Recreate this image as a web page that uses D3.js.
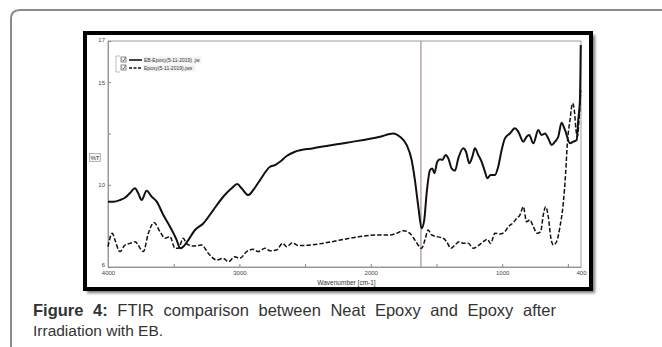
<!DOCTYPE html>
<html>
<head>
<meta charset="utf-8">
<script src="https://cdn.jsdelivr.net/npm/d3@7"></script>
<style>
  body { margin: 0; background: #fff; }
  svg { display: block; }
</style>
</head>
<body>
<div id="chart"></div>
<script>
// series (wavenumber cm-1, %T)
var wnEB = [4000,3960,3909,3871,3833,3795,3769,3744,3706,3667,3629,3579,3528,3477,3452,3427,3389,3338,3275,3199,3123,3059,3016,2983,2932,2894,2843,2767,2729,2691,2640,2577,2438,2184,1930,1829,1778,1727,1689,1664,1638,1613,1593,1575,1549,1532,1516,1494,1473,1456,1430,1410,1385,1359,1334,1296,1275,1250,1227,1207,1182,1156,1131,1113,1088,1055,1030,1004,979,941,903,877,839,814,794,763,725,700,674,649,624,598,573,548,522,484,459,433,421,408,402];
var tEB = [9.18,9.18,9.26,9.37,9.6,9.83,9.58,9.26,9.71,9.42,9.18,8.53,7.96,7.31,6.91,6.99,7.31,7.8,8.12,8.77,9.42,9.83,10.04,9.83,9.5,9.75,10.23,10.88,10.96,11.12,11.4,11.61,11.78,12.05,12.34,12.5,12.34,11.94,11.21,10.23,8.93,7.88,8.29,9.58,10.72,10.8,10.56,11.12,11.24,11.21,11.45,11.29,10.8,10.69,11.29,11.78,11.61,11.05,11.37,11.78,11.45,11.12,10.64,10.32,10.48,10.48,10.88,11.69,12.26,12.5,12.75,12.58,12.1,12.34,12.42,12.02,12.67,12.42,12.5,12.26,11.94,12.1,12.34,13.02,12.67,12.02,12.1,12.18,13.15,14.13,16.8];

var wnNeat = [4000,3967,3947,3909,3871,3833,3795,3731,3693,3650,3604,3566,3528,3490,3465,3427,3401,3351,3287,3237,3173,3123,3084,3034,2996,2945,2894,2856,2805,2767,2716,2671,2640,2597,2552,1930,1854,1803,1753,1702,1664,1613,1588,1563,1537,1499,1448,1423,1390,1359,1329,1291,1258,1220,1182,1144,1113,1088,1055,1017,979,953,915,890,865,839,814,789,763,733,707,687,669,649,631,611,586,560,535,517,504,484,464,451,438,428,415,402];
var tNeat = [6.99,7.64,7.31,6.75,7.07,7.15,7.23,6.75,7.64,8.16,7.72,7.4,7.48,6.91,6.91,7.4,7.12,7.02,7.07,6.67,6.34,6.42,6.26,6.5,6.42,6.75,6.86,6.75,6.91,6.79,6.83,7.15,6.99,7.18,7.04,7.56,7.56,7.64,7.77,7.64,7.31,6.91,7.31,7.8,7.56,7.48,7.4,7.23,6.91,7.07,7.23,7.15,7.15,6.91,7.04,7.23,7.35,7.15,7.64,7.61,7.72,7.96,8.16,8.37,8.53,8.93,8.2,8.29,7.96,7.64,7.72,8.53,8.93,8.45,7.48,7.07,7.23,7.96,9.1,10.56,12.02,13.15,13.97,13.64,12.67,12.34,13.15,14.6];

var seriesNames = ["EB-Epoxy(5-11-2019) .jw", "Epoxy(5-11-2019).jws"];
var xTickLabels = [4000, 3000, 2000, 1000, 400];
var yTickLabels = [17, 15, 10, 6];
var markerWn = 1618;

var W = 662, H = 347;
var svg = d3.select("#chart").append("svg")
  .attr("width", W).attr("height", H);

// outer card
svg.append("path")
  .attr("d", "M11," + (H + 5) + " L11,19 Q11,10 20,10 L" + (W + 5) + ",10")
  .attr("fill", "none")
  .attr("stroke", "#8a8a8a")
  .attr("stroke-width", 2);

// shadow + black frame of the figure image
var defs = svg.append("defs");
defs.append("filter").attr("id", "blur")
  .append("feGaussianBlur").attr("stdDeviation", 1.8);
svg.append("rect")
  .attr("x", 87).attr("y", 35).attr("width", 508).attr("height", 258)
  .attr("fill", "#777").attr("filter", "url(#blur)");
svg.append("rect")
  .attr("x", 85).attr("y", 33).attr("width", 506).attr("height", 256)
  .attr("fill", "#fff").attr("stroke", "#000").attr("stroke-width", 4);

// plot area
var pLeft = 108, pRight = 581, pTop = 41, pBottom = 267;
var x = d3.scaleLinear().domain([4000, 400]).range([pLeft, pRight]);
var y = d3.scaleLinear().domain([6, 17]).range([pBottom, pTop]);

var g = svg.append("g");
g.append("rect")
  .attr("x", pLeft).attr("y", pTop)
  .attr("width", pRight - pLeft).attr("height", pBottom - pTop)
  .attr("fill", "none").attr("stroke", "#888").attr("stroke-width", 0.8);

// x axis, ticks pointing inward
var xAxis = g.append("g")
  .attr("transform", "translate(0," + pBottom + ")")
  .call(d3.axisBottom(x).tickValues([4000,3500,3000,2500,2000,1500,1000,500,400])
    .tickSizeInner(-3).tickSizeOuter(0)
    .tickFormat(function(d) { return xTickLabels.indexOf(d) >= 0 ? d : ""; }));
xAxis.select(".domain").attr("stroke", "#888").attr("stroke-width", 0.8);
xAxis.selectAll(".tick line").attr("stroke", "#888");
xAxis.selectAll("text")
  .attr("y", 4).attr("dy", "0.71em")
  .attr("fill", "#444").style("font-size", "6px").style("font-family", "Liberation Sans, Arial");
xAxis.selectAll(".tick").filter(function(d) { return d == 400 || d == 4000; })
  .select("line").attr("stroke", "none");

// y axis
var yAxis = g.append("g")
  .attr("transform", "translate(" + pLeft + ",0)")
  .call(d3.axisLeft(y).tickValues([6, 7.5, 10, 12.5, 15, 17])
    .tickSizeInner(-3).tickSizeOuter(0)
    .tickFormat(function(d) { return yTickLabels.indexOf(d) >= 0 ? d : ""; }));
yAxis.select(".domain").attr("stroke", "#888").attr("stroke-width", 0.8);
yAxis.selectAll(".tick line").attr("stroke", "#888");
yAxis.selectAll("text")
  .attr("x", -3)
  .attr("fill", "#444").style("font-size", "6px").style("font-family", "Liberation Sans, Arial");
yAxis.selectAll(".tick").filter(function(d) { return d == 6; })
  .select("text").attr("dy", "-0.1em");
yAxis.selectAll(".tick").filter(function(d) { return d == 17; })
  .select("text").attr("dy", "0.1em");

// axis titles
g.append("text")
  .attr("x", (pLeft + pRight) / 2 + 2).attr("y", 285)
  .attr("text-anchor", "middle")
  .attr("fill", "#333").style("font-size", "6.5px").style("font-family", "Liberation Sans, Arial")
  .text("Wavenumber [cm-1]");
g.append("rect")
  .attr("x", 89.5).attr("y", 153.5).attr("width", 11).attr("height", 8)
  .attr("fill", "#f4f4f4").attr("stroke", "#888").attr("stroke-width", 0.6);
g.append("text")
  .attr("x", 95).attr("y", 159.8)
  .attr("text-anchor", "middle")
  .attr("fill", "#333").style("font-size", "6px").style("font-family", "Liberation Sans, Arial")
  .text("%T");

// marker line
g.append("line")
  .attr("x1", x(markerWn)).attr("x2", x(markerWn))
  .attr("y1", pTop).attr("y2", pBottom)
  .attr("stroke", "#7a5656").attr("stroke-width", 0.8);

// spectra
var line = d3.line()
  .x(function(d) { return x(d[0]); })
  .y(function(d) { return y(d[1]); })
  .curve(d3.curveMonotoneX);

g.append("path")
  .datum(d3.zip(wnNeat, tNeat))
  .attr("fill", "none")
  .attr("stroke", "#111")
  .attr("stroke-width", 1.5)
  .attr("stroke-dasharray", "4.5,2")
  .attr("d", line);

g.append("path")
  .datum(d3.zip(wnEB, tEB))
  .attr("fill", "none")
  .attr("stroke", "#111")
  .attr("stroke-width", 2)
  .attr("d", line);

// legend
var leg = g.append("g").attr("transform", "translate(116,56)");
leg.append("path")
  .attr("d", "M4,0 L0,0 L0,16 L4,16")
  .attr("fill", "none").attr("stroke", "#aaa").attr("stroke-width", 0.8);
seriesNames.forEach(function(name, i) {
  var row = leg.append("g").attr("transform", "translate(0," + (i * 8) + ")");
  row.append("rect")
    .attr("x", 5).attr("y", 1).attr("width", 5).attr("height", 5)
    .attr("fill", "#fff").attr("stroke", "#555").attr("stroke-width", 0.7);
  row.append("path")
    .attr("d", "M6,3.5 L7.5,5 L9.5,1.5")
    .attr("fill", "none").attr("stroke", "#333").attr("stroke-width", 0.7);
  row.append("line")
    .attr("x1", 13).attr("x2", 26).attr("y1", 4).attr("y2", 4)
    .attr("stroke", "#111").attr("stroke-width", i == 0 ? 1.6 : 1.3)
    .attr("stroke-dasharray", i == 0 ? null : "3,1.5");
  row.append("rect")
    .attr("x", 27.5).attr("y", 0.5).attr("width", i == 0 ? 58 : 52).attr("height", 7)
    .attr("fill", "#f3f3f3");
  row.append("text")
    .attr("x", 28).attr("y", 6)
    .attr("fill", "#333").style("font-size", "5px").style("font-family", "Liberation Sans, Arial")
    .text(name);
});

// caption (first line is justified in the source page)
var cap = svg.append("text")
  .attr("x", 33).attr("y", 316)
  .attr("fill", "#333")
  .style("font-size", "16.5px")
  .style("font-family", "Liberation Sans, Arial");
cap.append("tspan").style("font-weight", "bold").text("Figure 4:");
cap.append("tspan").text(" FTIR comparison between Neat Epoxy and Epoxy after");
var natural = cap.node().getComputedTextLength();
cap.style("word-spacing", Math.max(0, (556 - 33 - natural) / 9) + "px");
svg.append("text")
  .attr("x", 33).attr("y", 336)
  .attr("fill", "#333")
  .style("font-size", "15.5px").style("font-family", "Liberation Sans, Arial")
  .text("Irradiation with EB.");
</script>
</body>
</html>
